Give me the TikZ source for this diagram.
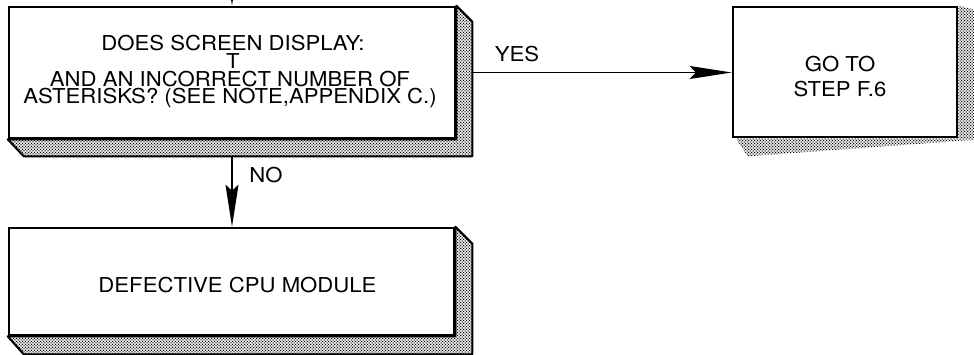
\documentclass[tikz,border=0pt]{standalone}
\usepackage{fontspec}
\setmainfont{TeX Gyre Heros}[FakeStretch=1.08]
\usetikzlibrary{arrows.meta,patterns,calc}
\pgfdeclarepatternformonly{halftone}{\pgfpoint{-1pt}{-1pt}}{\pgfpoint{4pt}{4pt}}{\pgfpoint{3pt}{3pt}}{
  \pgfpathcircle{\pgfpoint{0pt}{0pt}}{0.75pt}
  \pgfpathcircle{\pgfpoint{1.5pt}{1.5pt}}{0.75pt}
  \pgfusepath{fill}}
\tikzset{
  front/.style={draw=black, line width=2.6pt, fill=white, rectangle, inner sep=0pt, align=center, font=\fontsize{20.5}{23}\selectfont},
  extr/.style={pattern=halftone, pattern color=black, draw=black, line width=2pt, line join=round},
  shade/.style={pattern=halftone, pattern color=black},
  conn/.style={line width=1.8pt, -{Stealth[length=42pt,width=13pt,inset=6pt]}},
  lbl/.style={font=\fontsize{20.5}{23}\selectfont, inner sep=0pt}
}
\begin{document}
\begin{tikzpicture}[x=1pt,y=-1pt]
\useasboundingbox (0,0) rectangle (974,355);
% top decision box
\node[front, minimum width=446pt, minimum height=131pt] (q) at (232,72.5) {};
\draw[extr] (q.north east) -- ++(16,16) -- ($(q.south east)+(16,17)$) -- ($(q.south west)+(16,17)$) -- (q.south west) -- (q.south east) -- cycle;
\node[front, minimum width=446pt, minimum height=131pt] at (q) {};
\node[lbl, anchor=base] (l1) at (233,50.7) {DOES SCREEN DISPLAY:};
\node[lbl, anchor=base] (l2) at (233,68.3) {T};
\node[lbl, anchor=base] (l3) at (230,86.7) {AND AN INCORRECT NUMBER OF};
\node[lbl, anchor=base] (l4) at (230,103.5) {ASTERISKS? (SEE NOTE,APPENDIX C.)};
% go to box
\node[front, minimum width=224pt, minimum height=130pt] (g) at (845,72) {};
\fill[shade] (g.north east) -- ++(17,4) -- ++(0,130) -- ($(g.south west)+(16,18)$) -- ($(g.south west)+(4,0)$) -- (g.south east) -- cycle;
\node[front, minimum width=224pt, minimum height=130pt] at (g) {};
\node[lbl, anchor=base] (g1) at (840,72) {GO TO};
\node[lbl, anchor=base] (g2) at (840,97) {STEP F.6};
% bottom box
\node[front, minimum width=445pt, minimum height=107pt] (b) at (231.5,281.5) {};
\draw[extr] (b.north east) -- ++(17,17) -- ($(b.south east)+(17,18)$) -- ($(b.south west)+(16,18)$) -- (b.south west) -- (b.south east) -- cycle;
\node[front, minimum width=445pt, minimum height=107pt] at (b) {};
\node[lbl, anchor=base] (bt) at (237.5,293) {DEFECTIVE CPU MODULE};
% connectors
\coordinate (tin) at (232,-45);
\coordinate (qb) at ($(q.south)+(0,17)$);
\coordinate (qr) at ($(q.east)+(16,0)$);
\draw[conn] (tin) -- (q.north);
\draw[conn] (qb) -- (qb |- b.north);
\draw[conn] (qr) -- (g.west |- qr);
\node[lbl, anchor=base] (yes) at (517,62) {YES};
\node[lbl, anchor=base] (no) at (266,183) {NO};
\end{tikzpicture}
\end{document}
